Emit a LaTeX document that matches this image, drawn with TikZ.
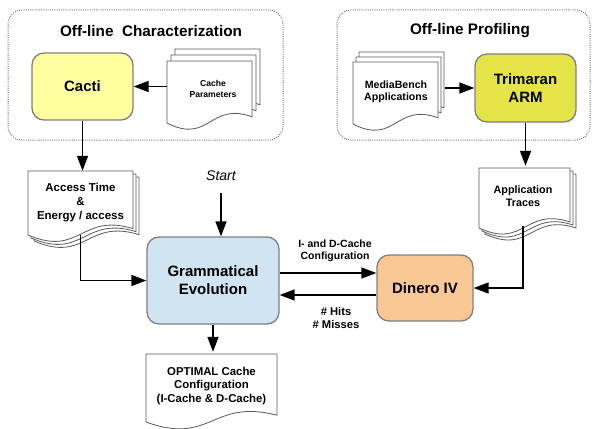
\documentclass[tikz,border=0pt]{standalone}
\usepackage{fontspec}
\setmainfont{Liberation Sans}
\usetikzlibrary{arrows.meta,calc}
\definecolor{cactiY}{RGB}{255,255,160}
\definecolor{trimY}{RGB}{228,228,72}
\definecolor{geB}{RGB}{208,228,242}
\definecolor{dinO}{RGB}{250,200,148}
\definecolor{bordG}{RGB}{128,128,128}
\definecolor{docG}{RGB}{90,90,90}
\definecolor{dotG}{RGB}{120,120,120}
\newcommand\docshape[4]{%
  \draw[docline] (#1,#4) -- (#1,#2) -- (#3,#2) -- (#3,{#4-0.1*(#4-#2)})
    .. controls ({0.5*(#1+#3)},{#4-0.35*(#4-#2)}) and ({0.5*(#1+#3)},{#4+0.35*(#4-#2)}) .. (#1,#4) -- cycle;}
\tikzset{
  docline/.style={draw=docG, fill=white, line width=0.8pt},
  proc/.style={draw=bordG, line width=1.3pt, rounded corners=12pt, align=center,
    font=\fontsize{15}{18}\selectfont\bfseries},
  arr/.style={line width=1.5pt, -{Triangle[length=15pt,width=11pt]}},
  container/.style={draw=dotG, line width=1pt, dash pattern=on 1pt off 1.2pt, rounded corners=14pt},
  doctext/.style={align=center, inner sep=0pt},
  titletext/.style={font=\fontsize{15.3}{17}\selectfont\bfseries},
  lbl/.style={align=center, inner sep=0pt, font=\fontsize{10.5}{12.5}\selectfont\bfseries},
}
\begin{document}
\begin{tikzpicture}[x=1pt,y=-1pt]
\useasboundingbox (0,0) rectangle (593,428);
% containers
\draw[container] (8,10) rectangle (283,140);
\draw[container] (337,10) rectangle (590,140);
\node[titletext] (t1) at (151,31) {Off-line~~Characterization};
\node[titletext] (t2) at (470,31) {Off-line Profiling};
% process boxes
\node[proc, fill=cactiY, minimum width=101pt, minimum height=67pt] (cacti) at (82.5,86.5) {Cacti};
\node[proc, fill=trimY, minimum width=101pt, minimum height=68pt] (trim) at (525.5,88) {Trimaran\\ARM};
\node[proc, fill=geB, minimum width=132pt, minimum height=87pt] (ge) at (213,280.5) {Grammatical\\Evolution};
\node[proc, fill=dinO, minimum width=96pt, minimum height=66pt] (din) at (425,288) {Dinero IV};
% documents
\docshape{175}{49}{260}{111}
\docshape{171}{55}{256}{117}
\docshape{167}{61}{252}{123}
\node[doctext, minimum width=92pt, minimum height=56pt, font=\fontsize{8.6}{11.5}\selectfont\bfseries] (cp) at (213,89) {Cache\\Parameters};
\docshape{359}{52}{444}{114}
\docshape{356}{57}{441}{119}
\docshape{353}{62}{438}{124}
\node[doctext, minimum width=85pt, minimum height=62pt, font=\fontsize{10.6}{11.5}\selectfont\bfseries] (mb) at (396,92) {MediaBench\\Applications};
\docshape{34}{177}{139}{241}
\docshape{31}{174}{136}{238}
\docshape{28}{171}{133}{235}
\node[doctext, minimum width=105pt, minimum height=64pt, font=\fontsize{11.5}{14}\selectfont\bfseries] (acc) at (80.5,203) {Access Time\\\&\\Energy / access};
\docshape{485}{174}{576}{234}
\docshape{482}{171}{573}{231}
\docshape{479}{168}{570}{228}
\node[doctext, minimum width=91pt, minimum height=60pt, font=\fontsize{10.8}{13}\selectfont\bfseries] (at) at (523,196) {Application\\Traces};
\docshape{146}{354}{277}{422}
\node[doctext, minimum width=131pt, minimum height=68pt, font=\fontsize{11.4}{13.5}\selectfont\bfseries] (opt) at (211.5,386) {OPTIMAL Cache\\Configuration\\(I-Cache \& D-Cache)};
% start
\node[font=\fontsize{14}{16}\selectfont\itshape] (start) at (221,176) {Start};
% labels
\node[lbl] (l1) at (335,251) {I- and D-Cache\\Configuration};
\node[lbl, font=\fontsize{11.2}{13}\selectfont\bfseries] (l2) at (336,318) {\# Hits\\\# Misses};
% connectors
\draw[arr] (cacti.east -| cp.west) -- (cacti.east);
\draw[arr] ([xshift=6pt]trim.west -| mb.east) -- (trim.west);
\draw[arr] (cacti.south) -- (cacti.south |- acc.north);
\draw[arr] (trim.south) -- (trim.south |- at.north);
\draw[arr] (acc.south) |- (ge.west);
\draw[arr] ([yshift=-9pt]start.south) -- (start.south |- ge.north);
\draw[arr] ([yshift=7.5pt]ge.east) -- ([yshift=7.5pt]ge.east -| din.west);
\draw[arr] ([yshift=-7pt]din.west) -- ([yshift=-7pt]din.west -| ge.east);
\draw[arr] (at.south) |- (din.east);
\draw[arr] (ge.south) -- (ge.south |- opt.north);
\end{tikzpicture}
\end{document}
